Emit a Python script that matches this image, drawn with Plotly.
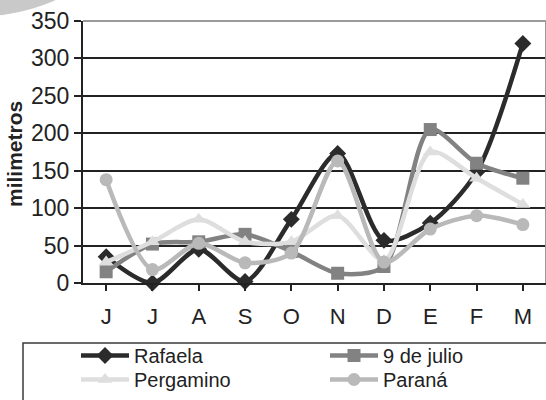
import plotly.graph_objects as go

# Monthly rainfall (mm) per locality, June to March
months = ["J", "J", "A", "S", "O", "N", "D", "E", "F", "M"]
month_ids = list(range(len(months)))

rafaela = [35, 0, 45, 2, 85, 173, 57, 80, 148, 320]
nueve_de_julio = [15, 52, 55, 65, 42, 13, 22, 205, 160, 140]
pergamino = [28, 55, 85, 55, 55, 90, 30, 175, 140, 105]
parana = [138, 18, 53, 27, 40, 163, 28, 72, 90, 78]

# name, values, colour, marker symbol, legend row
series = [
    ("Rafaela", rafaela, "#2b2b2b", "diamond", "legend"),
    ("9 de julio", nueve_de_julio, "#828282", "square", "legend"),
    ("Pergamino", pergamino, "#dedede", "triangle-up", "legend2"),
    ("Paraná", parana, "#b9b9b9", "circle", "legend2"),
]

FONT = "Arial, Liberation Sans, sans-serif"
W, H = 546, 400
L, R, T, B = 83, 0, 21, 117
pw, ph = W - L - R, H - T - B


def px(x):
    return (x - L) / pw


def py(y):
    return (H - B - y) / ph


fig = go.Figure()
for name, vals, color, symbol, leg in series:
    fig.add_trace(go.Scatter(
        x=month_ids, y=vals, name=name, mode="lines+markers",
        line=dict(color=color, width=4.5, shape="spline", smoothing=0.8),
        marker=dict(symbol=symbol, size=13, color=color),
        cliponaxis=False, legend=leg,
    ))

shapes = [
    # decorative grey disc at the top-left corner
    dict(type="circle", xref="paper", yref="paper",
         x0=px(-26 - 205), x1=px(-26 + 205), y0=py(-188 + 205), y1=py(-188 - 205),
         fillcolor="#c9c9c9", line=dict(width=0), layer="below"),
    # grey frame on top and right of the plot area
    dict(type="line", xref="paper", yref="paper", x0=0, x1=1, y0=1, y1=1,
         line=dict(color="#9a9a9a", width=2)),
    dict(type="line", xref="paper", yref="paper", x0=1, x1=1, y0=0, y1=1,
         line=dict(color="#9a9a9a", width=2)),
    # legend frame
    dict(type="rect", xref="paper", yref="paper",
         x0=px(23), x1=px(560), y0=py(343), y1=py(410),
         line=dict(color="#3a3a3a", width=1.5), fillcolor="rgba(0,0,0,0)"),
]

legend_style = dict(
    orientation="h", xanchor="left", yanchor="top",
    entrywidth=186, entrywidthmode="pixels",
    font=dict(size=20, family=FONT, color="#222222"),
    bgcolor="rgba(0,0,0,0)", itemwidth=48,
)

fig.update_layout(
    width=W, height=H,
    margin=dict(l=L, r=R, t=T, b=B, autoexpand=False),
    paper_bgcolor="white", plot_bgcolor="white",
    font=dict(family=FONT, color="#222222"),
    showlegend=True,
    legend=dict(x=px(76), y=py(336), **legend_style),
    legend2=dict(x=px(76), y=py(360), **legend_style),
    shapes=shapes,
    annotations=[dict(
        text="<b>milimetros</b>", xref="paper", yref="paper",
        x=px(14), y=py(154), xanchor="center", yanchor="middle",
        textangle=-90, showarrow=False,
        font=dict(size=21, family=FONT, color="#222222"),
    )],
    xaxis=dict(
        range=[-0.5, 9.5], tickmode="array", tickvals=month_ids, ticktext=months,
        tickson="boundaries", ticks="outside", ticklen=6, tickwidth=2,
        tickcolor="#222222", showline=True, linecolor="#222222", linewidth=2,
        showgrid=False, zeroline=False, ticklabelstandoff=7,
        tickfont=dict(size=22, family=FONT, color="#222222"),
    ),
    yaxis=dict(
        range=[0, 350], tickvals=[0, 50, 100, 150, 200, 250, 300, 350],
        ticks="outside", ticklen=7, tickwidth=2, tickcolor="#222222",
        showline=True, linecolor="#222222", linewidth=2,
        showgrid=True, gridcolor="#222222", gridwidth=1.5, zeroline=False,
        tickfont=dict(size=23, family=FONT, color="#222222"),
    ),
)

fig.write_html("out.html")
